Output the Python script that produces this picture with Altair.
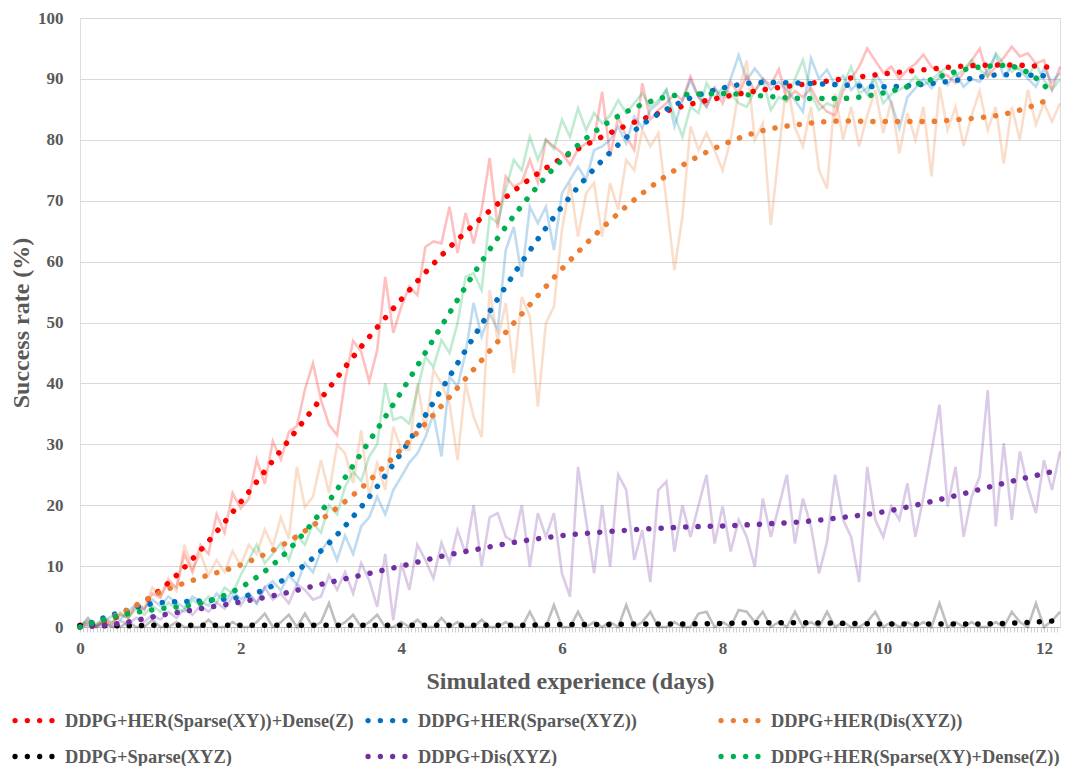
import altair as alt
import pandas as pd

SERIES = [
    "DDPG+HER(Sparse(XY))+Dense(Z)",
    "DDPG+HER(Sparse(XYZ))",
    "DDPG+HER(Dis(XYZ))",
    "DDPG+Sparse(XYZ)",
    "DDPG+Dis(XYZ)",
    "DDPG+HER(Sparse(XY)+Dense(Z))",
]
COLORS = ["#FF0000", "#0070C0", "#ED7D31", "#000000", "#7030A0", "#00B050"]

# raw samples every 0.1 day, 0.0 .. 12.2
RAW_DAYS = [round(i * 0.1, 1) for i in range(123)]

RAW_RED = [
    0.2, 0.8, 0.3, 1.2, 0.6, 2.0, 1.5, 3.5, 2.8, 5.5,
    4.8, 7.5, 6.5, 12.0, 9.0, 13.5, 12.0, 18.5, 15.5, 22.0,
    19.5, 21.0, 27.5, 23.5, 30.5, 27.5, 32.0, 33.0, 39.0, 43.3,
    37.3, 33.2, 31.5, 40.5, 47.0, 45.2, 40.3, 45.5, 57.5, 48.3,
    52.6, 55.9, 54.5, 62.4, 63.3, 63.0, 69.0, 61.4, 68.0, 63.0,
    68.5, 77.0, 65.5, 74.0, 72.3, 73.0, 76.7, 73.0, 80.0, 78.9,
    77.8, 75.9, 78.5, 79.4, 80.0, 87.9, 77.2, 83.8, 80.5, 78.3,
    89.3, 83.3, 84.9, 86.0, 87.6, 86.5, 90.4, 87.0, 85.5, 88.5,
    86.0, 89.5, 87.5, 90.5, 88.0, 90.0, 89.0, 91.6, 86.5, 88.0,
    87.0, 88.5, 86.0, 84.6, 84.0, 88.0, 90.0, 92.0, 95.0, 93.0,
    91.0, 92.0, 90.0, 91.5, 92.5, 94.0, 92.0, 91.2, 90.5, 89.3,
    91.0, 93.0, 95.0, 90.4, 92.0, 93.5, 95.3, 93.7, 94.2, 92.5,
    93.1, 88.2, 92.0,
]
RAW_BLUE = [
    0.0, 0.5, 0.2, 1.0, 1.8, 1.2, 2.5, 3.8, 3.0, 4.5,
    3.5, 5.0, 4.0, 3.2, 5.0, 4.2, 3.5, 5.5, 4.0, 6.0,
    4.5, 5.5, 3.8, 6.5, 7.5, 6.0, 8.5, 7.0, 10.5, 9.0,
    12.5, 14.3, 11.0, 15.0, 12.0, 16.5, 18.0, 21.4, 18.5, 22.5,
    24.7, 27.0, 28.5, 31.2, 35.0, 28.0, 41.1, 39.5, 45.0, 53.2,
    47.7, 51.5, 48.8, 61.9, 65.7, 57.5, 69.0, 66.3, 69.0, 61.9,
    71.2, 73.4, 75.6, 73.4, 78.3, 78.9, 80.0, 82.2, 79.4, 83.8,
    82.0, 84.9, 86.0, 88.2, 82.2, 86.5, 89.8, 87.0, 85.4, 88.5,
    87.0, 90.0, 93.9, 89.8, 91.7, 90.0, 88.2, 89.5, 88.2, 86.5,
    84.6, 93.4, 90.0, 91.5, 89.0, 90.5, 88.2, 89.5, 87.5, 90.9,
    89.0, 86.0, 81.9, 87.0, 88.5, 90.0, 88.5, 90.4, 89.0, 91.0,
    88.7, 90.0, 89.5, 91.5, 93.9, 90.5, 92.0, 91.5, 90.0, 88.7,
    91.7, 89.5, 91.0,
]
RAW_ORANGE = [
    0.0, 0.5, 0.2, 1.0, 0.5, 2.5, 1.5, 4.0, 3.0, 6.5,
    5.0, 8.0, 6.0, 13.5, 9.5, 12.0, 8.5, 11.0, 9.0, 12.5,
    10.0, 13.5, 12.0, 16.0, 13.2, 18.0, 14.5, 26.3, 19.7, 21.4,
    27.4, 22.0, 29.9, 28.5, 23.6, 32.3, 21.4, 26.9, 22.5, 32.9,
    29.1, 29.1, 40.0, 32.3, 42.2, 40.0, 36.7, 27.4, 40.0, 34.5,
    31.2, 55.3, 47.1, 53.2, 41.7, 54.2, 51.0, 36.2, 49.9, 52.6,
    65.2, 72.9, 64.1, 71.2, 72.9, 64.1, 72.9, 68.5, 76.7, 75.0,
    81.6, 78.9, 81.1, 70.0, 58.6, 67.4, 82.2, 78.3, 81.1, 78.3,
    75.0, 80.0, 88.0, 93.0, 80.0, 82.7, 66.0, 78.0, 89.8, 82.0,
    78.9, 85.4, 75.0, 72.0, 87.6, 80.0, 85.4, 78.9, 84.0, 88.2,
    81.1, 86.5, 77.8, 84.4, 80.0, 85.4, 74.0, 88.7, 81.6, 85.4,
    79.0, 84.0, 88.0, 81.6, 85.4, 76.1, 85.4, 80.0, 88.2, 82.5,
    86.0, 83.0, 86.0,
]
RAW_BLACK = [
    0.0, 1.5, 0.0, 0.8, 0.0, 0.0, 0.8, 0.0, 0.0, 1.2,
    0.0, 0.0, 0.8, 0.0, 0.0, 0.0, 1.2, 0.0, 0.0, 0.8,
    0.0, 0.0, 0.8, 2.2, 0.0, 0.8, 2.0, 0.0, 2.2, 0.0,
    0.8, 3.9, 0.0, 0.8, 2.0, 0.0, 0.8, 2.0, 0.0, 0.0,
    0.8, 0.0, 1.2, 0.0, 0.0, 1.5, 0.0, 0.8, 0.0, 0.0,
    1.2, 0.0, 0.0, 0.8, 0.0, 0.0, 2.5, 0.0, 0.0, 3.6,
    0.0, 0.0, 2.5, 0.0, 0.8, 0.0, 0.8, 0.0, 3.6, 0.0,
    0.8, 2.5, 0.0, 0.0, 0.8, 0.0, 0.0, 2.2, 2.5, 0.0,
    0.8, 0.0, 2.8, 2.5, 0.8, 2.5, 0.0, 0.8, 0.0, 2.5,
    0.0, 0.8, 0.0, 2.5, 0.0, 0.8, 0.0, 0.0, 0.8, 2.5,
    0.0, 0.8, 0.0, 0.8, 0.0, 0.8, 0.0, 3.9, 0.0, 0.8,
    0.0, 0.8, 0.0, 0.0, 0.8, 0.0, 2.5, 0.8, 0.0, 3.9,
    0.0, 1.0, 2.5,
]
RAW_PURPLE = [
    0.0, 0.2, 0.0, 0.5, 0.2, 1.0, 0.5, 1.5, 0.8, 2.0,
    1.2, 2.5, 1.5, 3.0, 2.0, 3.5, 2.5, 4.0, 3.0, 5.0,
    3.5, 5.5, 4.0, 6.5, 4.5, 5.5, 3.9, 7.0, 6.1, 4.5,
    5.0, 8.5, 6.1, 9.0, 5.5, 10.5, 7.7, 3.3, 12.0, 1.1,
    10.5, 6.1, 13.5, 11.0, 8.0, 13.8, 10.5, 15.9, 12.0, 20.0,
    10.0, 18.0, 18.7, 14.8, 14.0, 20.0, 9.9, 18.7, 14.8, 18.7,
    8.8, 5.0, 26.3, 17.6, 8.8, 20.0, 9.9, 25.0, 22.5, 11.0,
    15.9, 7.4, 22.5, 23.9, 12.4, 20.0, 14.8, 20.0, 25.0, 13.7,
    19.8, 12.4, 17.6, 14.8, 9.9, 21.1, 14.8, 19.8, 25.0, 13.7,
    21.1, 16.5, 8.8, 14.0, 25.0, 17.6, 14.8, 7.4, 26.3, 17.6,
    14.8, 19.8, 17.6, 23.6, 14.8, 21.4, 28.8, 36.5, 19.8, 26.3,
    14.8, 21.4, 24.7, 38.9, 16.5, 30.2, 17.6, 28.8, 23.0, 18.7,
    27.4, 22.5, 28.8,
]
RAW_GREEN = [
    0.3, 1.0, 0.5, 1.5, 0.8, 2.2, 1.5, 3.0, 2.0, 3.5,
    2.5, 4.0, 3.0, 2.5, 4.5, 3.5, 5.0, 4.0, 6.5, 5.5,
    8.5, 11.0, 13.5, 10.5, 12.0, 13.8, 11.0, 15.0, 13.5, 17.0,
    15.5, 20.0, 18.5, 23.0, 25.5, 24.0, 28.0, 30.0, 40.0, 34.0,
    34.5, 33.4, 38.9, 44.4, 42.7, 47.1, 45.0, 49.9, 57.5, 58.1,
    55.3, 67.4, 66.3, 71.8, 76.7, 75.0, 80.5, 76.7, 80.0, 78.5,
    83.3, 80.5, 85.2, 81.6, 84.4, 82.7, 84.0, 86.5, 84.4, 86.0,
    87.6, 85.4, 86.5, 88.2, 84.0, 80.5, 85.4, 84.4, 89.3, 87.0,
    88.5, 87.6, 86.0, 85.4, 88.0, 89.8, 84.9, 87.0, 86.3, 90.0,
    93.1, 87.6, 84.9, 86.0, 85.4, 89.0, 92.0, 87.6, 88.5, 89.8,
    86.0, 87.5, 88.2, 89.0, 90.4, 89.0, 89.8, 91.0, 92.0, 90.4,
    91.5, 93.1, 91.5, 90.4, 94.2, 92.5, 91.2, 92.0, 90.5, 92.5,
    89.8, 88.2, 90.0,
]

# trend lines (dotted), read at half-day steps
TREND_DAYS = [0, 0.5, 1, 1.5, 2, 2.5, 3, 3.5, 4, 4.5, 5, 5.5, 6, 6.5, 7, 7.5,
              8, 8.5, 9, 9.5, 10, 10.5, 11, 11.5, 12, 12.1]
TREND_RED = [0.3, 1.9, 6.1, 12.6, 20.5, 29.0, 37.5, 46.0, 53.8, 61.0, 67.2, 72.6, 77.0,
             80.5, 83.4, 85.5, 87.0, 88.2, 89.1, 90.0, 90.8, 91.5, 92.1, 92.3, 92.0, 91.8]
TREND_BLUE = [0.0, 2.4, 4.0, 4.3, 4.9, 7.5, 12.5, 19.7, 28.6, 39.0, 49.7, 59.9, 69.0,
              76.6, 82.5, 86.3, 88.5, 89.4, 89.3, 89.0, 88.7, 89.1, 89.9, 90.7, 90.5, 90.2]
TREND_ORANGE = [0.0, 2.2, 5.7, 8.1, 10.2, 13.3, 17.6, 22.8, 29.2, 36.3, 43.8, 51.4, 58.8,
                65.5, 71.2, 75.8, 79.2, 81.5, 82.6, 83.1, 83.0, 83.0, 83.4, 84.2, 86.3, 86.9]
TREND_BLACK = [0.2, 0.2, 0.3, 0.3, 0.3, 0.3, 0.3, 0.3, 0.3, 0.3, 0.3, 0.3, 0.4,
               0.4, 0.5, 0.5, 0.6, 0.7, 0.7, 0.6, 0.5, 0.5, 0.5, 0.6, 0.9, 1.0]
TREND_PURPLE = [0.0, 0.6, 1.9, 3.0, 4.1, 5.4, 7.0, 8.5, 10.0, 11.6, 12.9, 14.1, 15.0,
                15.6, 16.05, 16.4, 16.6, 16.9, 17.3, 18.0, 18.9, 20.3, 21.9, 23.6, 25.2, 25.5]
TREND_GREEN = [0.0, 1.9, 3.0, 3.9, 6.5, 11.4, 18.9, 28.5, 38.6, 49.4, 60.0, 69.2, 76.7,
               82.2, 85.8, 87.4, 87.6, 87.2, 86.8, 86.8, 87.7, 89.5, 91.5, 92.2, 89.0, 87.6]

X_LABELS = [0, 2, 4, 6, 8, 10, 12]
Y_TICKS = [0, 10, 20, 30, 40, 50, 60, 70, 80, 90, 100]
X_MINOR = [round(k / 24, 4) for k in range(0, 293)]

RAW = [RAW_RED, RAW_BLUE, RAW_ORANGE, RAW_BLACK, RAW_PURPLE, RAW_GREEN]
TREND = [TREND_RED, TREND_BLUE, TREND_ORANGE, TREND_BLACK, TREND_PURPLE, TREND_GREEN]

raw_df = pd.DataFrame(
    [{"series": s, "day": d, "value": v}
     for s, vals in zip(SERIES, RAW) for d, v in zip(RAW_DAYS, vals)]
)
trend_df = pd.DataFrame(
    [{"series": s, "day": d, "value": v}
     for s, vals in zip(SERIES, TREND) for d, v in zip(TREND_DAYS, vals)]
)

FONT = "Liberation Serif"
TXT = "#595959"

x_axis = alt.Axis(
    values=X_MINOR,
    labelExpr="indexof(" + str(X_LABELS) + ", datum.value) >= 0 ? format(datum.value, 'd') : ''",
    labelOverlap=False, labelFlush=False, grid=False,
    domainColor="#bfbfbf", tickColor="#cfcfcf", tickSize=5, tickWidth=1,
    labelPadding=8, labelFont=FONT, labelFontSize=17, labelFontWeight="bold",
    labelColor=TXT, title="Simulated experience (days)", titleFont=FONT,
    titleFontSize=24, titleFontWeight="bold", titleColor=TXT, titlePadding=13,
)
y_axis = alt.Axis(
    values=Y_TICKS, grid=True, gridColor="#d9d9d9", gridWidth=1.2, domain=False,
    ticks=False, labelPadding=17, labelFont=FONT, labelFontSize=17,
    labelFontWeight="bold", labelColor=TXT, title="Success rate (%)",
    titleFont=FONT, titleFontSize=24, titleFontWeight="bold", titleColor=TXT,
    titlePadding=4,
)

x_enc = alt.X("day:Q", scale=alt.Scale(domain=[0, 12.2], nice=False, zero=False), axis=x_axis)
y_enc = alt.Y("value:Q", scale=alt.Scale(domain=[0, 100], nice=False), axis=y_axis)

# legend sample: four small discs (stroked circles that fill themselves)
_r = 0.065
DOTS_PATH = "".join(
    "M{:.4f},0a{r},{r} 0 1,0 {d},0a{r},{r} 0 1,0 -{d},0Z".format(cx - _r, r=_r, d=2 * _r)
    for cx in (-0.9225, -0.3075, 0.3075, 0.9225)
)

legend = alt.Legend(
    orient="none", legendX=-68, legendY=681, direction="horizontal",
    columns=3, gridAlign="all", columnPadding=7, rowPadding=5,
    symbolType=DOTS_PATH, symbolSize=1600, symbolStrokeWidth=2.7,
    symbolOpacity=1,
    labelFont=FONT, labelFontSize=18.4, labelFontWeight="bold",
    labelColor=TXT, labelLimit=0, labelOffset=10, title=None, padding=0,
)

raw = alt.Chart(raw_df).mark_line(strokeWidth=2.6, opacity=0.25).encode(
    x=x_enc, y=y_enc,
    color=alt.Color("series:N", scale=alt.Scale(domain=SERIES, range=COLORS), legend=None),
)
trend = alt.Chart(trend_df).mark_line(
    strokeCap="round", interpolate="monotone"
).encode(
    x=x_enc, y=y_enc,
    color=alt.Color("series:N", scale=alt.Scale(domain=SERIES, range=COLORS), legend=legend),
    strokeWidth=alt.value(5.5),
    strokeDash=alt.value([0.1, 12.2]),
)

chart = alt.layer(raw, trend).resolve_scale(color="independent").properties(
    width=980, height=609,
    padding={"left": 72, "top": 10, "right": 3, "bottom": 140},
    autosize=alt.AutoSizeParams(type="none"),
).configure_view(stroke=None).configure(background="white")

chart.save("out.html", embed_options={"renderer": "svg", "actions": False})
